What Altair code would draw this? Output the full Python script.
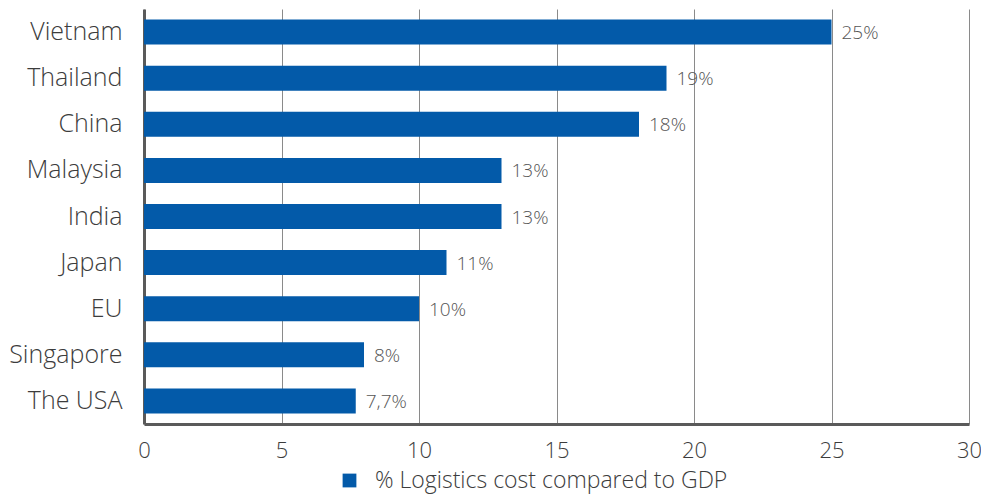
import altair as alt
import pandas as pd

countries = ["Vietnam", "Thailand", "China", "Malaysia", "India", "Japan", "EU", "Singapore", "The USA"]
values = [25, 19, 18, 13, 13, 11, 10, 8, 7.7]
labels = ["25%", "19%", "18%", "13%", "13%", "11%", "10%", "8%", "7,7%"]
series = "% Logistics cost compared to GDP"

df = pd.DataFrame({"country": countries, "value": values, "label": labels, "series": series})

FONT = "Open Sans"
BLUE = "#035AA9"
TXT = "#3c3c3c"

y_enc = alt.Y("country:N", sort=countries, title=None,
              scale=alt.Scale(paddingInner=0.46, paddingOuter=0.23),
              axis=alt.Axis(labelFontSize=25, labelColor=TXT, labelFont=FONT,
                            labelFontWeight=300, labelPadding=22, ticks=False,
                            domainColor="#5a5a5a", domainWidth=3, grid=False))
x_enc = alt.X("value:Q", title=None,
              scale=alt.Scale(domain=[0, 30], nice=False),
              axis=alt.Axis(values=[0, 5, 10, 15, 20, 25, 30], labelFontSize=22,
                            labelColor=TXT, labelFont=FONT, labelFontWeight=300,
                            labelPadding=16, labelFlush=False, ticks=False,
                            domainColor="#5a5a5a", domainWidth=3, grid=True,
                            gridColor="#8a8a8a", gridWidth=1))

bars = alt.Chart(df).mark_bar(size=25).encode(
    y=y_enc, x=x_enc,
    color=alt.Color("series:N", scale=alt.Scale(range=[BLUE]),
                    legend=alt.Legend(title=None, orient="none", legendX=194, legendY=460,
                                      symbolType="square", symbolSize=190,
                                      symbolStrokeWidth=0, labelFontSize=23,
                                      labelFont=FONT, labelFontWeight=300,
                                      labelColor=TXT, labelLimit=700, labelOffset=14,
                                      symbolOffset=0))
)

text = alt.Chart(df).mark_text(align="left", baseline="middle", dx=10, dy=1,
                               fontSize=19, font=FONT, fontWeight=300, color="#555555").encode(
    y=alt.Y("country:N", sort=countries), x="value:Q", text="label:N"
)

chart = (bars + text).properties(
    width=825, height=415,
    background="white",
    autosize=alt.AutoSizeParams(type="none"),
    padding={"left": 136, "top": 1, "right": 12, "bottom": 70},
).configure_view(stroke=None)

chart.save("out.html", embed_options={"renderer": "svg", "actions": False})
